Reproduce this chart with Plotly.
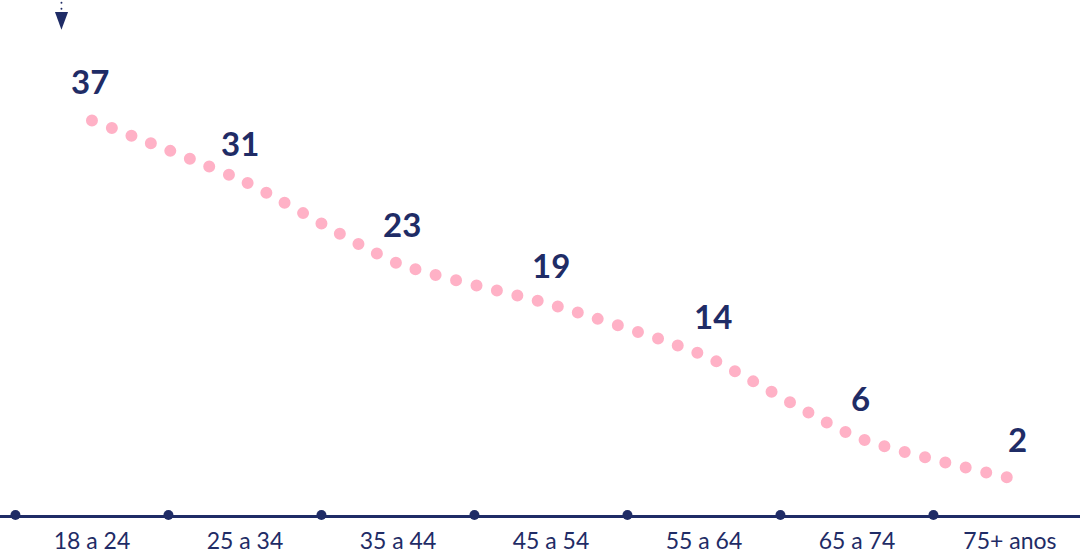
import plotly.graph_objects as go

categories = ["18 a 24", "25 a 34", "35 a 44", "45 a 54", "55 a 64", "65 a 74", "75+ anos"]
values = [37, 31, 23, 19, 14, 6, 2]
label_xshift = [-2, -5, 4, 0, 9, 4, 8]

NAVY = "#1f2c66"
PINK = "#ffb1c6"

x = list(range(len(categories)))
y_axis_val = -1.61
x_range = [-0.601, 6.458]
y_range = [y_axis_val, 48.78]

fig = go.Figure()

# dotted smooth line
fig.add_trace(go.Scatter(
    x=x, y=values, mode="lines",
    line=dict(color=PINK, width=12, shape="spline", smoothing=0.6, dash="0px,21px"),
    hoverinfo="skip", cliponaxis=False,
))

# boundary dots on the axis
bounds = [i - 0.5 for i in range(len(categories))]
fig.add_trace(go.Scatter(
    x=bounds, y=[y_axis_val] * len(bounds), mode="markers",
    marker=dict(color=NAVY, size=10), cliponaxis=False, hoverinfo="skip",
))

for xi, v, dx in zip(x, values, label_xshift):
    fig.add_annotation(
        x=xi, y=v, text=f"<b>{v}</b>", showarrow=False, xshift=dx, yshift=39,
        font=dict(family="Lato", size=33, color=NAVY),
    )

# top-left arrow decoration
fig.add_shape(type="path", xref="paper", yref="paper",
              path="M 0.0509,0.9768 L 0.0630,0.9768 L 0.0569,0.9420 Z",
              fillcolor=NAVY, line=dict(width=0))
for yy in [0.9946, 0.9830]:
    fig.add_shape(type="circle", xref="paper", yref="paper",
                  x0=0.0560, x1=0.0578, y0=yy - 0.0018, y1=yy + 0.0018,
                  fillcolor=NAVY, line=dict(width=0))

fig.update_layout(
    width=1080, height=554,
    margin=dict(l=0, r=0, t=0, b=37),
    plot_bgcolor="white", paper_bgcolor="white",
    showlegend=False,
    xaxis=dict(range=x_range, tickvals=x, ticktext=categories, showgrid=False, zeroline=False,
               showline=True, linecolor=NAVY, linewidth=2.5,
               ticks="outside", ticklen=4, tickcolor="rgba(0,0,0,0)",
               tickfont=dict(family="Lato", size=23, color=NAVY), fixedrange=True),
    yaxis=dict(range=y_range, visible=False, showgrid=False, zeroline=False),
)

post = """
var fix=function(){document.querySelectorAll('.scatterlayer .js-line').forEach(function(p){p.style.strokeLinecap='round';});};
fix(); setTimeout(fix,50);
"""
fig.write_html("out.html", post_script=post)
